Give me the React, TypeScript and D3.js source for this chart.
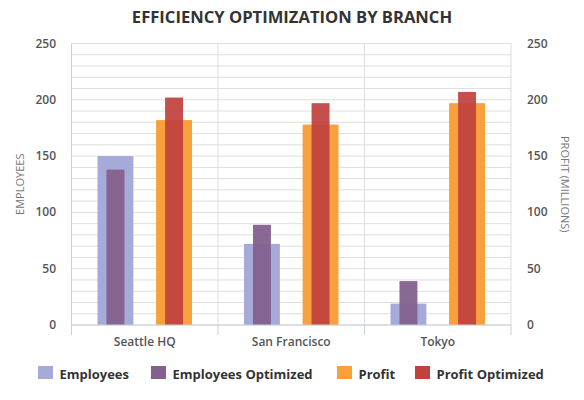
import React from "react";
import * as d3 from "d3";

const categories = ["Seattle HQ", "San Francisco", "Tokyo"];
const employees = [150, 72, 19];
const employeesOptimized = [138, 89, 39];
const profit = [182, 178, 197];
const profitOptimized = [202, 197, 207];
const yTicks = [0, 50, 100, 150, 200, 250];
const seriesNames = ["Employees", "Employees Optimized", "Profit", "Profit Optimized"];
const seriesColors = ["#a6aad8", "#84608e", "#f8a03c", "#c0423e"];

const W = 584;
const H = 400;
const left = 71.5;
const right = 511;
const top = 43.5;
const bottom = 325;

export default function App() {
  const x = d3.scaleBand<string>().domain(categories).range([left, right]).padding(0);
  const bw = x.bandwidth();
  const inner = d3.scalePoint<string>().domain(["emp", "profit"]).range([0, bw]).padding(0.75);
  const yEmp = d3.scaleLinear().domain([0, 250]).range([bottom, top]);
  const yProfit = d3.scaleLinear().domain([0, 250]).range([bottom, top]);
  const wide = bw * 0.245;
  const narrow = wide / 2;
  const minor = d3.range(0, 251, 10);
  const font = "'Open Sans', sans-serif";

  const bar = (cx: number, w: number, v: number, y: d3.ScaleLinear<number, number>, color: string, op: number, key: string) => (
    <rect key={key} x={cx - w / 2} y={y(v)} width={w} height={bottom - y(v)} fill={color} fillOpacity={op} />
  );

  const legendX = [38, 151, 337, 415];

  return (
    <svg width={W} height={H} style={{ position: "absolute", left: 0, top: 0, fontFamily: font }}>
      <rect width={W} height={H} fill="#fff" />
      <text x={292} y={23} textAnchor="middle" fontSize={16.6} fontWeight={700} fill="#333">
        EFFICIENCY OPTIMIZATION BY BRANCH
      </text>
      {minor.map((t) => (
        <line key={t} x1={left} x2={right} y1={yEmp(t)} y2={yEmp(t)} stroke="#dedede" strokeWidth={1} />
      ))}
      {categories.map((c, i) =>
        i === 0 ? null : (
          <line key={c} x1={x(c)!} x2={x(c)!} y1={top} y2={bottom} stroke="#dedede" />
        )
      )}
      <line x1={right} x2={right} y1={top} y2={bottom} stroke="#dedede" />
      {categories.map((c, i) => {
        const x0 = x(c)!;
        const ce = x0 + inner("emp")!;
        const cp = x0 + inner("profit")!;
        return (
          <g key={c}>
            {bar(ce, wide, employees[i], yEmp, seriesColors[0], 1, "e")}
            {bar(ce, narrow, employeesOptimized[i], yEmp, seriesColors[1], 0.95, "eo")}
            {bar(cp, wide, profit[i], yProfit, seriesColors[2], 1, "p")}
            {bar(cp, narrow, profitOptimized[i], yProfit, seriesColors[3], 0.93, "po")}
          </g>
        );
      })}
      <line x1={left} x2={left} y1={top} y2={335} stroke="#c5d0dc" />
      <line x1={left} x2={right} y1={bottom} y2={bottom} stroke="#c5d0dc" />
      {categories.map((c) => (
        <line key={c} x1={x(c)! + bw} x2={x(c)! + bw} y1={bottom} y2={335} stroke="#c5d0dc" />
      ))}
      {categories.map((c) => (
        <text key={c} x={x(c)! + bw / 2} y={346} textAnchor="middle" fontSize={12} fontWeight={600} fill="#555">
          {c}
        </text>
      ))}
      {yTicks.map((t) => (
        <text key={"l" + t} x={56} y={yEmp(t) + 4} textAnchor="end" fontSize={12} fontWeight={600} fill="#555">
          {t}
        </text>
      ))}
      {yTicks.map((t) => (
        <text key={"r" + t} x={527} y={yProfit(t) + 4} textAnchor="start" fontSize={12} fontWeight={600} fill="#555">
          {t}
        </text>
      ))}
      <text transform={`translate(24,${(top + bottom) / 2}) rotate(-90)`} textAnchor="middle" fontSize={11} fill="#777">
        EMPLOYEES
      </text>
      <text transform={`translate(561,${(top + bottom) / 2}) rotate(90)`} textAnchor="middle" fontSize={11} fill="#777">
        PROFIT (MILLIONS)
      </text>
      {seriesNames.map((s, i) => (
        <g key={s}>
          <rect x={legendX[i]} y={366} width={15} height={13} fill={seriesColors[i]} />
          <text x={legendX[i] + 21.5} y={379} fontSize={13} fontWeight={700} fill="#333">
            {s}
          </text>
        </g>
      ))}
    </svg>
  );
}
